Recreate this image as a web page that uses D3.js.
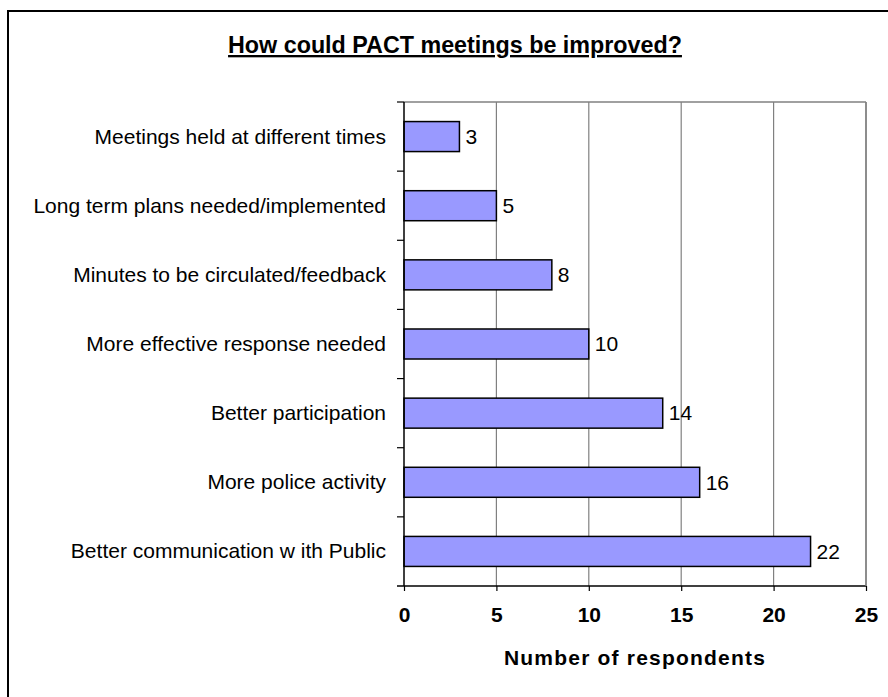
<!DOCTYPE html>
<html>
<head>
<meta charset="utf-8">
<script src="https://cdn.jsdelivr.net/npm/d3@7"></script>
<style>
  html, body { margin: 0; padding: 0; background: #fff; }
  svg { display: block; font-family: "Liberation Sans", Arial, sans-serif; }
</style>
</head>
<body>
<div id="chart"></div>
<script>
// Survey responses: how could PACT meetings be improved?
const categories = [
  "Meetings held at different times",
  "Long term plans needed/implemented",
  "Minutes to be circulated/feedback",
  "More effective response needed",
  "Better participation",
  "More police activity",
  "Better communication w ith Public"
];
const respondents = [3, 5, 8, 10, 14, 16, 22];
const xTicks = [0, 5, 10, 15, 20, 25];

const chartTitle = "How could PACT meetings be improved?";
const xTitle = "Number of respondents";

const W = 888, H = 697;
const plot = { left: 404, right: 866, top: 102, bottom: 586 };

const svg = d3.select("#chart").append("svg")
  .attr("width", W).attr("height", H);

// outer frame
svg.append("rect")
  .attr("x", 8).attr("y", 11)
  .attr("width", W + 20).attr("height", H + 20)
  .attr("fill", "none").attr("stroke", "#000").attr("stroke-width", 2);

const x = d3.scaleLinear().domain([0, 25]).range([plot.left, plot.right]);
const y = d3.scaleBand().domain(categories)
  .range([plot.top, plot.bottom])
  .paddingInner(0.566).paddingOuter(0.283);

// vertical gridlines
svg.append("g").selectAll("line")
  .data(xTicks.filter(t => t > 0))
  .join("line")
  .attr("x1", d => x(d)).attr("x2", d => x(d))
  .attr("y1", plot.top).attr("y2", plot.bottom)
  .attr("stroke", "#808080").attr("stroke-width", 1.2);

// plot frame top edge
svg.append("line")
  .attr("x1", plot.left).attr("x2", plot.right)
  .attr("y1", plot.top).attr("y2", plot.top)
  .attr("stroke", "#808080").attr("stroke-width", 1.5);

// bars
svg.append("g").selectAll("rect")
  .data(categories)
  .join("rect")
  .attr("x", x(0))
  .attr("y", d => y(d))
  .attr("width", (d, i) => x(respondents[i]) - x(0))
  .attr("height", y.bandwidth())
  .attr("fill", "#9999FF")
  .attr("stroke", "#000").attr("stroke-width", 1.5);

// value labels
svg.append("g").selectAll("text")
  .data(categories)
  .join("text")
  .attr("x", (d, i) => x(respondents[i]) + 6)
  .attr("y", d => y(d) + y.bandwidth() / 2)
  .attr("dy", "0.35em")
  .attr("font-size", 21)
  .attr("fill", "#000")
  .text((d, i) => respondents[i]);

// x axis
const xAxis = d3.axisBottom(x).tickValues(xTicks).tickSize(5).tickSizeOuter(0).tickPadding(16);
const gx = svg.append("g")
  .attr("transform", `translate(0,${plot.bottom})`)
  .call(xAxis);
gx.select(".domain").remove();
gx.append("line")
  .attr("x1", plot.left - 7).attr("x2", plot.right)
  .attr("stroke", "#000").attr("stroke-width", 1.5);
gx.selectAll(".tick line").attr("stroke", "#000").attr("stroke-width", 1.2);
gx.selectAll(".tick text")
  .attr("font-size", 21).attr("font-weight", "bold")
  .attr("font-family", "'Liberation Sans', Arial, sans-serif")
  .attr("fill", "#000");

// y axis with ticks at category boundaries
svg.append("line")
  .attr("x1", plot.left).attr("x2", plot.left)
  .attr("y1", plot.top).attr("y2", plot.bottom)
  .attr("stroke", "#000").attr("stroke-width", 1.5);
const step = y.step();
svg.append("g").selectAll("line")
  .data(d3.range(categories.length))
  .join("line")
  .attr("x1", plot.left - 7).attr("x2", plot.left)
  .attr("y1", i => plot.top + i * step).attr("y2", i => plot.top + i * step)
  .attr("stroke", "#000").attr("stroke-width", 1.2);

// category labels
svg.append("g").selectAll("text")
  .data(categories)
  .join("text")
  .attr("x", plot.left - 18)
  .attr("y", d => y(d) + y.bandwidth() / 2)
  .attr("dy", "0.33em")
  .attr("text-anchor", "end")
  .attr("font-size", 21)
  .attr("fill", "#000")
  .text(d => d);

// right edge of plot frame
svg.append("line")
  .attr("x1", plot.right).attr("x2", plot.right)
  .attr("y1", plot.top).attr("y2", plot.bottom)
  .attr("stroke", "#808080").attr("stroke-width", 1.5);

// chart title
svg.append("text")
  .attr("x", 455).attr("y", 53)
  .attr("text-anchor", "middle")
  .attr("font-size", 23.3).attr("font-weight", "bold")
  .attr("text-decoration", "underline")
  .attr("fill", "#000")
  .text(chartTitle);

// axis title
svg.append("text")
  .attr("x", (plot.left + plot.right) / 2).attr("y", 665)
  .attr("text-anchor", "middle")
  .attr("font-size", 21).attr("font-weight", "bold")
  .attr("letter-spacing", 1.2)
  .attr("fill", "#000")
  .text(xTitle);
</script>
</body>
</html>
